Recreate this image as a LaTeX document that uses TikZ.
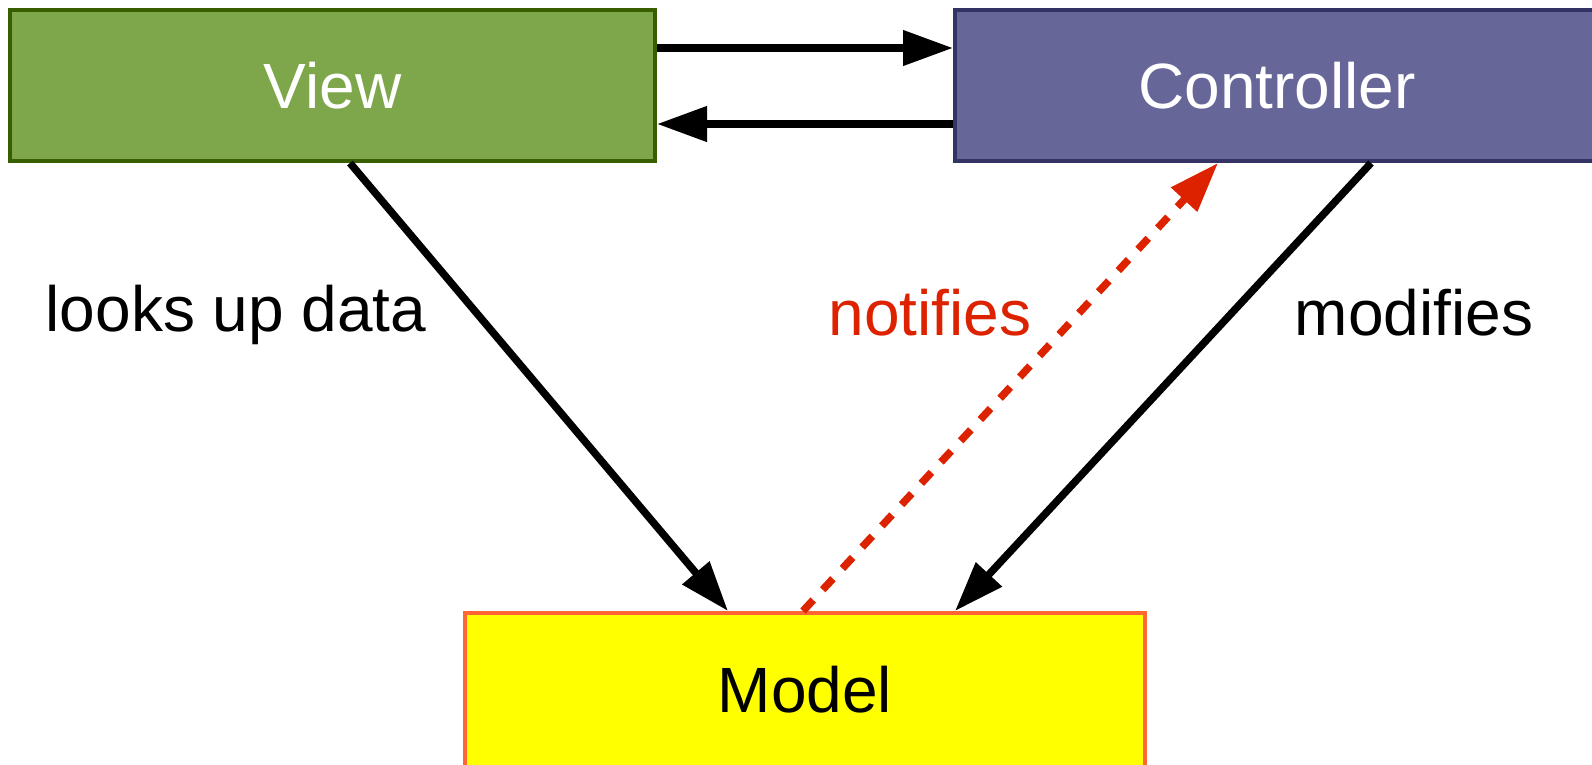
\documentclass[tikz,border=0pt]{standalone}
\usepackage{fontspec}
\setmainfont{Liberation Sans}
\usetikzlibrary{arrows.meta,calc}

\definecolor{viewfill}{RGB}{126,166,74}
\definecolor{viewline}{RGB}{56,94,0}
\definecolor{ctrlfill}{RGB}{102,102,153}
\definecolor{ctrlline}{RGB}{51,51,102}
\definecolor{modelfill}{RGB}{255,255,0}
\definecolor{modelline}{RGB}{255,102,51}
\definecolor{notifyred}{RGB}{221,34,0}

\tikzset{
  box/.style={rectangle, line width=4pt, inner sep=0pt,
    font=\fontsize{64}{76}\selectfont},
  viewbox/.style={box, fill=viewfill, draw=viewline, text=white,
    minimum width=645pt, minimum height=151pt},
  ctrlbox/.style={box, fill=ctrlfill, draw=ctrlline, text=white,
    minimum width=644pt, minimum height=151pt},
  modelbox/.style={box, fill=modelfill, draw=modelline, text=black,
    minimum width=680pt, minimum height=154pt},
  lbl/.style={font=\fontsize{64}{76}\selectfont, inner sep=0pt},
  arr/.style={line width=7.5pt, draw=black,
    -{Triangle[length=50pt,width=34pt]}},
  notify/.style={line width=7.5pt, draw=notifyred,
    dash pattern=on 15pt off 14pt,
    -{Triangle[length=50pt,width=34pt]}},
}

\begin{document}
\begin{tikzpicture}[x=1pt,y=-1pt]
  \useasboundingbox (0,0) rectangle (1592,764);
  \clip (0,0) rectangle (1592,764);

  % the three components
  \node[viewbox]  (view)  at (332.5,85.5) {View};
  \node[ctrlbox]  (ctrl)  at (1277,85.5)  {Controller};
  \node[modelbox] (model) at (805,690)    {Model};

  % view <-> controller
  \draw[arr] ([yshift=37.5pt]view.east) -- ([yshift=37.5pt]ctrl.west);
  \draw[arr] ([yshift=-38.5pt]ctrl.west) -- ([yshift=-38.5pt]view.east);

  % links to the model
  \draw[arr] ([xshift=17.5pt]view.south) -- ([xshift=-77pt]model.north);
  \draw[arr] ([xshift=94pt]ctrl.south) -- ([xshift=150pt]model.north);
  \draw[notify] ([xshift=-2pt]model.north) -- ([xshift=-59pt]ctrl.south);

  % edge labels
  \node[lbl] (lookup) at (236,315) {looks up data};
  \node[lbl, text=notifyred] (notifies) at (930,313) {notifies};
  \node[lbl] (modifies) at (1414,313) {modifies};
\end{tikzpicture}
\end{document}
